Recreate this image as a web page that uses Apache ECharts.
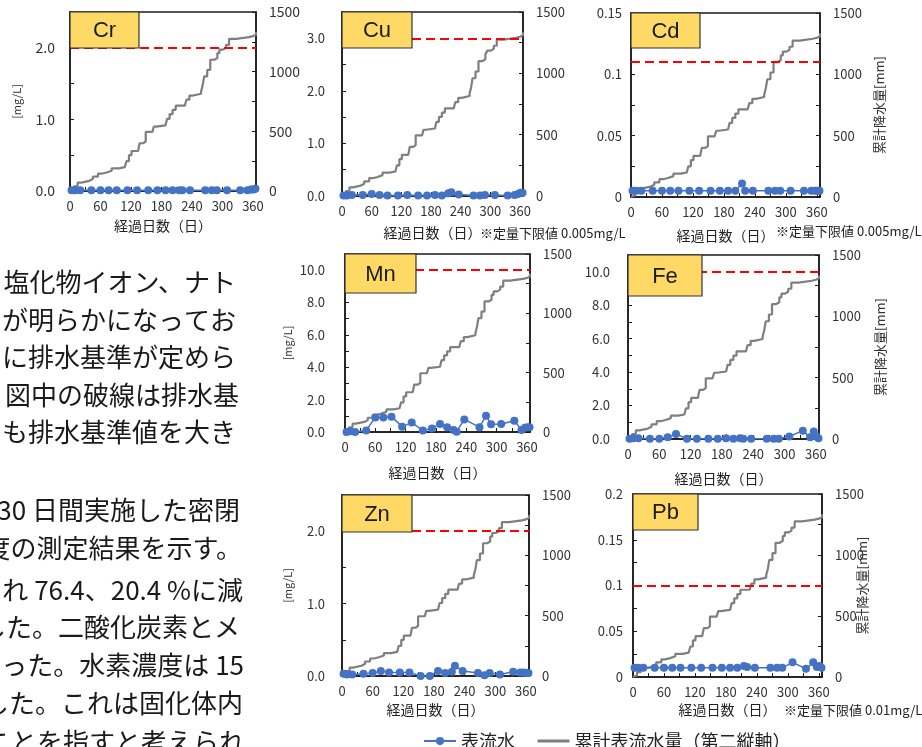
<!DOCTYPE html>
<html>
<head>
<meta charset="utf-8">
<script src="https://cdn.jsdelivr.net/npm/echarts@6.0.0/dist/echarts.min.js"></script>
<style>
html, body { margin: 0; padding: 0; background: #fff; }
#main { width: 922px; height: 747px; }
</style>
</head>
<body>
<div id="main"></div>
<script>
// sampling days of surface water (days elapsed)
var sampleDays = [3, 10, 20, 42, 60, 76, 92, 113, 132, 154, 172, 188, 202, 215, 221, 236, 266, 279, 289, 309, 335, 349, 356, 361, 365];

// surface water concentrations [mg/L]
var crValues = [0.01, 0.01, 0.01, 0.01, 0.01, 0.01, 0.01, 0.01, 0.01, 0.01, 0.01, 0.01, 0.01, 0.01, 0.01, 0.01, 0.01, 0.01, 0.01, 0.01, 0.01, 0.01, 0.02, 0.02, 0.03];
var cuValues = [0.01, 0.01, 0.02, 0.02, 0.04, 0.02, 0.01, 0.01, 0.02, 0.01, 0.01, 0.02, 0.01, 0.05, 0.07, 0.03, 0.01, 0.01, 0.02, 0.02, 0.01, 0.02, 0.04, 0.06, 0.06];
var cdValues = [0.005, 0.005, 0.005, 0.005, 0.005, 0.005, 0.005, 0.005, 0.005, 0.005, 0.005, 0.005, 0.005, 0.011, 0.005, 0.005, 0.005, 0.005, 0.005, 0.005, 0.005, 0.005, 0.005, 0.005, 0.005];
var mnValues = [0.0, 0.05, 0.0, 0.1, 0.9, 0.9, 0.95, 0.33, 0.58, 0.1, 0.22, 0.5, 0.3, 0.12, 0.02, 0.78, 0.3, 1.0, 0.48, 0.5, 0.7, 0.12, 0.26, 0.3, 0.3];
var feValues = [0.02, 0.05, 0.05, 0.02, 0.02, 0.1, 0.3, 0.02, 0.02, 0.02, 0.02, 0.05, 0.02, 0.05, 0.02, 0.02, 0.02, 0.02, 0.02, 0.15, 0.5, 0.1, 0.45, 0.15, 0.05];
var znValues = [0.03, 0.02, 0.02, 0.03, 0.04, 0.07, 0.05, 0.05, 0.05, 0.0, 0.0, 0.07, 0.04, 0.06, 0.14, 0.07, 0.04, 0.01, 0.04, 0.02, 0.06, 0.05, 0.05, 0.04, 0.04];
var pbValues = [0.01, 0.01, 0.01, 0.01, 0.01, 0.01, 0.01, 0.01, 0.01, 0.01, 0.01, 0.01, 0.01, 0.012, 0.011, 0.01, 0.01, 0.01, 0.01, 0.016, 0.009, 0.016, 0.011, 0.012, 0.01];

// cumulative surface runoff (second axis) [mm]
var rainDays = [0, 3, 8, 15, 22, 38, 45, 55, 62, 72, 82, 96, 108, 111, 116, 121, 134, 137, 144, 149, 162, 165, 170, 188, 191, 196, 202, 208, 226, 229, 235, 242, 258, 261, 264, 270, 276, 284, 290, 294, 301, 307, 313, 327, 352, 360, 366];
var rainTotal = [0, 15, 40, 70, 85, 100, 120, 145, 155, 170, 190, 200, 205, 250, 300, 335, 345, 400, 415, 495, 505, 540, 550, 560, 605, 645, 680, 715, 725, 765, 800, 815, 835, 885, 960, 1015, 1100, 1115, 1155, 1185, 1200, 1225, 1275, 1290, 1298, 1310, 1335];

var elements = ['Cr', 'Cu', 'Cd', 'Mn', 'Fe', 'Zn', 'Pb'];
var surfaceValues = [crValues, cuValues, cdValues, mnValues, feValues, znValues, pbValues];
var standards = [2.0, 3.0, 0.107, 10.0, 10.0, 2.0, 0.1];
var leftMax = [2.5, 3.5, 0.15, 11, 11, 2.5, 0.2];
var leftStep = [0.5, 0.5, 0.025, 1, 1, 0.5, 0.025];
var leftLabels = [
    ['0.0', '1.0', '2.0'],
    ['0.0', '1.0', '2.0', '3.0'],
    ['0', '0.05', '0.1', '0.15'],
    ['0.0', '2.0', '4.0', '6.0', '8.0', '10.0'],
    ['0.0', '2.0', '4.0', '6.0', '8.0', '10.0'],
    ['0.0', '1.0', '2.0'],
    ['0', '0.05', '0.1', '0.15', '0.2']
];
var dayLabels = ['0', '60', '120', '180', '240', '300', '360'];
var rainLabels = ['0', '500', '1000', '1500'];

var FONT = "'Noto Sans CJK JP', 'Noto Sans', sans-serif";

// panel layout: plot rect [left, top, width, height], label box size
var panels = [
    {rect: [70, 12, 186, 179], tag: [69, 36], font: 14, yMargin: 15, xGap: 28, leftName: 48},
    {rect: [342, 12, 181, 184], tag: [70, 36], font: 13, yMargin: 17, xGap: 30},
    {rect: [631, 13, 189, 184], tag: [69, 35], font: 13, yMargin: 9, xGap: 32, rightName: 53},
    {rect: [345, 254, 185, 178], tag: [71, 39], font: 13, yMargin: 20, xGap: 34, leftName: 52},
    {rect: [628, 255, 191, 184], tag: [74, 41], font: 13, yMargin: 18, xGap: 33, rightName: 55},
    {rect: [342, 495, 187, 181], tag: [70, 37], font: 13, yMargin: 17, xGap: 27, leftName: 49},
    {rect: [633, 494, 189, 183], tag: [65, 36], font: 13, yMargin: 10, xGap: 26, rightName: 34}
];

var bodyLines = [
    ['塩化物イオン、ナト', 236, 282],
    ['が明らかになってお', 236, 320],
    ['に排水基準が定めら', 236, 357],
    ['図中の破線は排水基', 239, 395],
    ['も排水基準値を大き', 236, 432],
    ['30 日間実施した密閉', 240, 510],
    ['度の測定結果を示す。', 242, 548],
    ['れ 76.4、20.4 %に減', 243, 590],
    ['した。二酸化炭素とメ', 240, 627],
    ['った。水素濃度は 15', 244, 665],
    ['した。これは固化体内', 243, 703],
    ['ことを指すと考えられ', 245, 742]
];
var notes = [
    ['※定量下限値 0.005mg/L', 480, 233],
    ['※定量下限値 0.005mg/L', 776, 231],
    ['※定量下限値 0.01mg/L', 784, 710]
];

function pick(labels) {
    return function (v) {
        for (var i = 0; i < labels.length; i++) {
            if (Math.abs(parseFloat(labels[i]) - v) < 1e-6) {
                return labels[i];
            }
        }
        return '';
    };
}

var grids = [], xAxes = [], yAxes = [], series = [], graphics = [];

panels.forEach(function (p, i) {
    var r = p.rect;
    grids.push({
        left: r[0], top: r[1], width: r[2], height: r[3],
        containLabel: false, outerBoundsMode: 'none',
        show: true, borderColor: '#1a1a1a', borderWidth: 1.5, backgroundColor: 'transparent'
    });
    xAxes.push({
        type: 'value', gridIndex: i, min: 0, max: 366, interval: 30,
        name: '経過日数（日）', nameLocation: 'middle', nameGap: p.xGap, nameMoveOverlap: false,
        nameTextStyle: {fontSize: 14, color: '#222', fontFamily: FONT},
        axisLine: {show: true, onZero: false, lineStyle: {color: '#1a1a1a', width: 1.5}},
        axisTick: {show: true, inside: true, length: 4, lineStyle: {color: '#1a1a1a'}},
        axisLabel: {formatter: pick(dayLabels), fontSize: 13, margin: 9, color: '#333', fontFamily: FONT},
        splitLine: {show: false}
    });
    yAxes.push({
        type: 'value', gridIndex: i, position: 'left', min: 0, max: leftMax[i], interval: leftStep[i],
        name: p.leftName ? '[mg/L]' : '', nameLocation: 'middle', nameGap: p.leftName || 0, nameRotate: 90,
        nameMoveOverlap: false,
        nameTextStyle: {fontSize: 11, color: '#333', fontFamily: FONT},
        axisLine: {show: true, onZero: false, lineStyle: {color: '#1a1a1a', width: 1.5}},
        axisTick: {show: true, inside: true, length: 4, lineStyle: {color: '#1a1a1a'}},
        axisLabel: {formatter: pick(leftLabels[i]), fontSize: p.font, margin: p.yMargin, color: '#333', fontFamily: FONT},
        splitLine: {show: false}
    });
    yAxes.push({
        type: 'value', gridIndex: i, position: 'right', min: 0, max: 1500, interval: 250,
        name: p.rightName ? '累計降水量[mm]' : '', nameLocation: 'middle', nameGap: p.rightName || 0, nameRotate: 90,
        nameMoveOverlap: false,
        nameTextStyle: {fontSize: 13, color: '#333', fontFamily: FONT},
        axisLine: {show: true, onZero: false, lineStyle: {color: '#1a1a1a', width: 1.5}},
        axisTick: {show: true, inside: true, length: 4, lineStyle: {color: '#1a1a1a'}},
        axisLabel: {formatter: pick(rainLabels), fontSize: p.font, margin: 13, color: '#333', fontFamily: FONT},
        splitLine: {show: false}
    });

    series.push({
        name: '累計表流水量（第二縦軸）', type: 'line', xAxisIndex: i, yAxisIndex: i * 2 + 1,
        step: 'end', symbol: 'none', z: 3,
        lineStyle: {color: '#7f7f7f', width: 2.2},
        itemStyle: {color: '#7f7f7f'},
        data: rainDays.map(function (d, k) { return [d, rainTotal[k]]; })
    });
    series.push({
        name: '表流水', type: 'line', xAxisIndex: i, yAxisIndex: i * 2,
        symbol: 'circle', symbolSize: 8, z: 4,
        lineStyle: {color: '#4472C4', width: 1.5},
        itemStyle: {color: '#4472C4'},
        data: sampleDays.map(function (d, k) { return [d, surfaceValues[i][k]]; }),
        markLine: {
            silent: true, symbol: 'none', animation: false,
            label: {show: false},
            lineStyle: {color: '#FF0000', type: [9, 5], width: 2},
            data: [{yAxis: standards[i]}]
        }
    });

    graphics.push({
        type: 'rect', z: 50,
        shape: {x: r[0], y: r[1], width: p.tag[0], height: p.tag[1]},
        style: {fill: '#FFD966', stroke: '#333', lineWidth: 1.2}
    });
    graphics.push({
        type: 'text', z: 51,
        x: r[0] + p.tag[0] / 2, y: r[1] + p.tag[1] / 2 + 1,
        style: {
            text: elements[i], fontSize: 22, fontFamily: "'Liberation Sans Narrow', 'Liberation Sans', sans-serif",
            fill: '#1a1a1a', align: 'center', verticalAlign: 'middle'
        }
    });
});

bodyLines.forEach(function (l) {
    graphics.push({
        type: 'text', x: l[1], y: l[2], z: 1,
        style: {text: l[0], fontSize: 26, fontFamily: FONT, fill: '#1a1a1a', align: 'right', verticalAlign: 'middle'}
    });
});

notes.forEach(function (n) {
    graphics.push({
        type: 'text', x: n[1], y: n[2], z: 1,
        style: {text: n[0], fontSize: 13, fontFamily: FONT, fill: '#222', align: 'left', verticalAlign: 'middle'}
    });
});

var myChart = echarts.init(document.getElementById('main'));
var option = {
    animation: false,
    backgroundColor: '#fff',
    textStyle: {fontFamily: FONT},
    legend: {
        left: 418, top: 727,
        itemWidth: 32, itemHeight: 10, itemGap: 21,
        selectedMode: false,
        textStyle: {fontSize: 18, color: '#222', fontFamily: FONT},
        data: [
            {name: '表流水'},
            {name: '累計表流水量（第二縦軸）', itemStyle: {opacity: 0}, lineStyle: {width: 3}}
        ]
    },
    grid: grids,
    xAxis: xAxes,
    yAxis: yAxes,
    series: series,
    graphic: graphics
};
myChart.setOption(option);
</script>
</body>
</html>
